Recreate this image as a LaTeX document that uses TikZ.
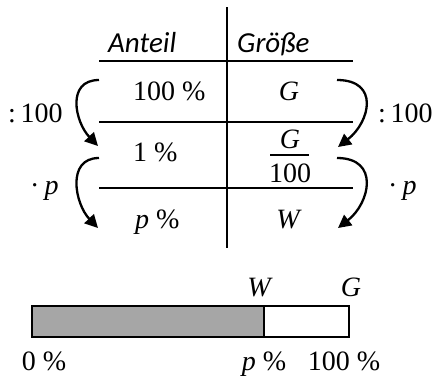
\documentclass[tikz,border=0pt]{standalone}
\usepackage{fontspec}
\setmainfont{Liberation Serif}
\newfontfamily\hdfont{Carlito}
\usetikzlibrary{arrows.meta}
\definecolor{bargray}{HTML}{A6A6A6}
\begin{document}
\begin{tikzpicture}[x=1pt,y=-1pt,
  txt/.style={inner sep=0pt, font=\fontsize{28}{34}\selectfont},
  hd/.style={inner sep=0pt, font=\fontsize{29}{35}\selectfont\hdfont\itshape},
  rule/.style={line width=2pt},
  arr/.style={line width=2.3pt, -{Triangle[length=13pt,width=13pt]}}]
\useasboundingbox (0,0) rectangle (433,378);
% table rules
\draw[rule] (227,7) -- (227,248);
\draw[rule] (99,61) -- (353,61);
\draw[rule] (99,122) -- (353,122);
\draw[rule] (99,188) -- (353,188);
% headers
\node[hd, anchor=base west] (hA) at (108,52) {Anteil};
\node[hd, anchor=base west] (hG) at (237,52) {Größe};
% cells
\node[txt, anchor=base west] (c11) at (133,100) {100 \%};
\node[txt, anchor=base] (c12) at (289,100) {\textit{G}};
\node[txt, anchor=base west] (c21) at (133,161) {1 \%};
\node[txt, anchor=base] (fG) at (290,148) {\textit{G}};
\draw[line width=1.2pt] (270,155) -- (309,155);
\node[txt, anchor=base] (f100) at (290,182) {100};
\node[txt, anchor=base west] (c31) at (135,228) {\textit{p} \%};
\node[txt, anchor=base] (c32) at (289,228) {\textit{W}};
% arrow ends
\coordinate (la1) at (99,80);  \coordinate (lb1) at (98,146);
\coordinate (la2) at (99,158); \coordinate (lb2) at (98,228);
\coordinate (ra1) at (337,80); \coordinate (rb1) at (338,147);
\coordinate (ra2) at (337,158);\coordinate (rb2) at (338,228);
\draw[arr] (la1) .. controls ++(-33,0) and ++(-23,-24) .. (lb1);
\draw[arr] (la2) .. controls ++(-33,0) and ++(-23,-24) .. (lb2);
\draw[arr] (ra1) .. controls ++(43,0) and ++(32,-25) .. (rb1);
\draw[arr] (ra2) .. controls ++(43,0) and ++(32,-25) .. (rb2);
% operation labels
\node[txt, anchor=base west] (l1) at (8,122) {:\,100};
\node[txt, anchor=base west] (r1) at (378,122) {:\,100};
\node[txt, anchor=base west] (l2) at (30,194) {·\hspace{5pt}\textit{p}};
\node[txt, anchor=base west] (r2) at (388,194) {·\hspace{5pt}\textit{p}};
% bar
\fill[bargray] (32,306) rectangle (264,337);
\draw[rule] (32,306) rectangle (349,337);
\draw[rule] (264,306) -- (264,337);
\node[txt, anchor=base] (bW) at (260,296) {\textit{W}};
\node[txt, anchor=base] (bG) at (351,296) {\textit{G}};
\node[txt, anchor=base] (b0) at (44,370) {0 \%};
\node[txt, anchor=base] (bp) at (264,370) {\textit{p} \%};
\node[txt, anchor=base] (b100) at (344,370) {100 \%};
\end{tikzpicture}
\end{document}
